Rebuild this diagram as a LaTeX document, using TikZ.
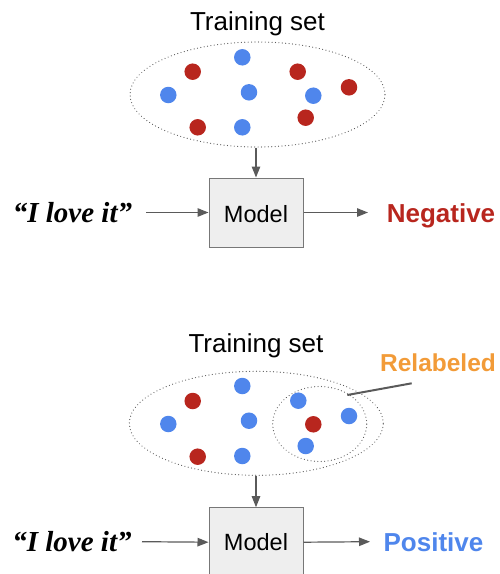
\documentclass[tikz,border=0pt]{standalone}
\usepackage{fontspec}
\setmainfont{Liberation Sans}
\newfontfamily\quotefont{Liberation Serif}
\usetikzlibrary{arrows.meta,shapes.geometric}
\definecolor{dotblue}{HTML}{4F86EC}
\definecolor{dotred}{HTML}{B8261E}
\definecolor{relorange}{HTML}{F29B38}
\definecolor{linegray}{HTML}{5A5A5A}
\definecolor{boxfill}{HTML}{EEEEEE}
\definecolor{boxdraw}{HTML}{777777}
\begin{document}
\begin{tikzpicture}[x=1pt,y=-1pt,
  title/.style={anchor=base,inner sep=0pt,font=\fontsize{26}{30}\selectfont},
  quote/.style={anchor=base,inner sep=0pt,font=\fontsize{29}{33}\selectfont\quotefont\bfseries\itshape},
  outlabel/.style={anchor=base,inner sep=0pt,font=\fontsize{26}{30}\selectfont\bfseries},
  modelbox/.style={draw=boxdraw,fill=boxfill,line width=1pt,minimum width=94pt,minimum height=69pt,inner sep=0pt},
  modeltext/.style={anchor=base,inner sep=0pt,font=\fontsize{23.5}{28}\selectfont},
  setellipse/.style={ellipse,draw=linegray,line width=1.2pt,dash pattern=on 0.01pt off 3.4pt,line cap=round,inner sep=0pt},
  conn/.style={draw=linegray,line width=1.2pt,-{Triangle[length=11pt,width=8.5pt]}},
  bdot/.style={circle,fill=dotblue,minimum size=16.5pt,inner sep=0pt},
  rdot/.style={circle,fill=dotred,minimum size=16.5pt,inner sep=0pt}]
\useasboundingbox (0,0) rectangle (500,574);

% ---------- top panel ----------
\node[title] (t1) at (257.5,30) {Training set};
\node[setellipse,minimum width=255pt,minimum height=105pt] (e1) at (257.5,94.5) {};
\node[bdot] at (242.3,57.3) {};
\node[rdot] at (192.7,71.7) {};
\node[rdot] at (297.7,71.7) {};
\node[bdot] at (168.3,95) {};
\node[bdot] at (249,92.3) {};
\node[bdot] at (313.3,95.7) {};
\node[rdot] at (349,87.3) {};
\node[rdot] at (197.7,127.3) {};
\node[bdot] at (242.3,127.3) {};
\node[rdot] at (305.7,117.7) {};

\node[modelbox] (m1) at (256,212.5) {};
\node[modeltext] (m1t) at (256,222.5) {Model};
\node[quote] (q1) at (72.5,222.7) {“I love it”};
\node[outlabel,text=dotred] (o1) at (441,222.7) {Negative};
\coordinate (q1e) at (146,212.5);
\coordinate (o1w) at (368,212.5);
\draw[conn] (e1.south -| m1.north) -- (m1.north);
\draw[conn] (q1e) -- (m1.west);
\draw[conn] (m1.east) -- (o1w);

% ---------- bottom panel ----------
\node[title] (t2) at (256,352.3) {Training set};
\node[setellipse,minimum width=254pt,minimum height=104pt] (e2) at (256.3,423.3) {};
\node[setellipse,minimum width=94pt,minimum height=75pt] (e3) at (319.7,424) {};
\node[bdot] at (242.3,386) {};
\node[rdot] at (192.7,401) {};
\node[bdot] at (168.3,424) {};
\node[bdot] at (249,420.7) {};
\node[rdot] at (197.7,456.7) {};
\node[bdot] at (242.3,456) {};
\node[bdot] at (298.3,400.7) {};
\node[rdot] at (313.3,424.3) {};
\node[bdot] at (349,416) {};
\node[bdot] at (305.7,446) {};

\node[outlabel,text=relorange,font=\fontsize{24.5}{28}\selectfont\bfseries] (rl) at (438,371.7) {Relabeled};
\coordinate (rls) at (347.3,395);
\coordinate (rle) at (411.7,383.3);
\draw[linegray,line width=2pt] (rls) -- (rle);

\node[modelbox] (m2) at (256,542.2) {};
\node[modeltext] (m2t) at (256,550.5) {Model};
\node[quote] (q2) at (72,551) {“I love it”};
\node[outlabel,text=dotblue] (o2) at (433.5,551) {Positive};
\coordinate (q2e) at (142,541.7);
\coordinate (o2w) at (370,541.7);
\draw[conn] (e2.south -| m2.north) -- (m2.north);
\draw[conn] (q2e) -- (m2.west);
\draw[conn] (m2.east) -- (o2w);
\end{tikzpicture}
\end{document}
